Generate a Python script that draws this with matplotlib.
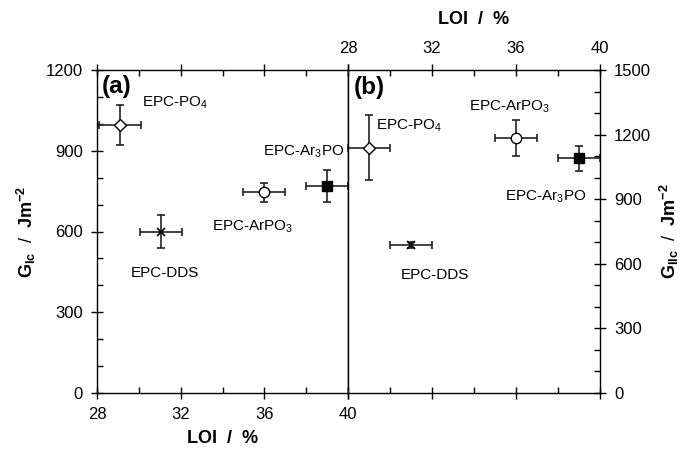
import matplotlib
matplotlib.use('Agg')
import matplotlib.pyplot as plt
from matplotlib.ticker import MultipleLocator

plt.rcParams['font.family'] = ['Liberation Sans', 'DejaVu Sans']
plt.rcParams['mathtext.fontset'] = 'custom'
plt.rcParams['mathtext.rm'] = 'Liberation Sans'
plt.rcParams['mathtext.it'] = 'Liberation Sans'
plt.rcParams['mathtext.bf'] = 'Liberation Sans:bold'

# =========================
# DONNEES
# =========================
names = ['EPC-PO$_4$', 'EPC-DDS', 'EPC-ArPO$_3$', 'EPC-Ar$_3$PO']
markers = ['D', 'x', 'o', 's']
faces = ['white', 'black', 'white', 'black']
msizes = [6.5, 6, 7.5, 7]

# (a) GIc vs LOI
loi_a = [29.1, 31.05, 36.0, 39.0]
loi_a_err = [1.0, 1.0, 1.0, 1.0]
gic = [995, 600, 745, 770]
gic_err = [75, 63, 37, 60]

# (b) GIIc vs LOI
loi_b = [29.0, 31.0, 36.0, 39.0]
loi_b_err = [1.0, 1.0, 1.0, 1.0]
giic = [1140, 687, 1185, 1090]
giic_err = [150, 15, 84, 59]

# position des etiquettes
lab_a = [(30.14, 1078), (29.63, 447), (33.48, 618), (35.92, 896)]
lab_b = [(29.34, 1240), (30.49, 548), (33.78, 1330), (35.46, 912)]

# =========================
# FIGURE
# =========================
fig = plt.figure(figsize=(6.84, 4.51), dpi=100)
W, H = 684, 451
ax1 = fig.add_axes([97 / W, 1 - 393 / H, 251 / W, 323 / H])
ax2 = fig.add_axes([348 / W, 1 - 393 / H, 252 / W, 323 / H])

lc = '#222222'


def draw(ax, x, xe, y, ye, labels):
    for i in range(len(x)):
        ax.errorbar(x[i], y[i], xerr=xe[i], yerr=ye[i], fmt='none',
                    ecolor=lc, elinewidth=1.2, capsize=3, capthick=1.2,
                    zorder=2, clip_on=False)
        if markers[i] == 'x':
            ax.plot(x[i], y[i], 'x', color='black', ms=msizes[i], mew=1.2, zorder=3)
        else:
            ax.plot(x[i], y[i], markers[i], mfc=faces[i], mec='black',
                    ms=msizes[i], mew=1.0, zorder=3)
        ax.text(labels[i][0], labels[i][1], names[i], fontsize=11,
                ha='left', va='center')


draw(ax1, loi_a, loi_a_err, gic, gic_err, lab_a)
draw(ax2, loi_b, loi_b_err, giic, giic_err, lab_b)

for ax in (ax1, ax2):
    ax.set_xlim(28, 40)
    ax.xaxis.set_major_locator(MultipleLocator(4))
    ax.xaxis.set_minor_locator(MultipleLocator(2))
    ax.yaxis.set_major_locator(MultipleLocator(300))
    ax.yaxis.set_minor_locator(MultipleLocator(100))
    for s in ax.spines.values():
        s.set_linewidth(1.0)
    ax.tick_params(which='major', direction='inout', length=8, width=1.0,
                   labelsize=12, top=True, bottom=True, pad=6)
    ax.tick_params(which='minor', direction='in', length=4, width=1.0,
                   top=True, bottom=True)

ax1.set_ylim(0, 1200)
ax1.tick_params(which='both', left=True, right=False, labelleft=True)
ax1.tick_params(axis='x', labeltop=False, labelbottom=True)
ax1.set_xlabel('LOI  /  %', fontsize=13, fontweight='bold', labelpad=6)
ax1.set_ylabel(r'$\mathbf{G_{Ic}}$  /  $\mathbf{Jm^{-2}}$', fontsize=13, labelpad=6)
ax1.text(28.22, 1137, '(a)', fontsize=17.5, fontweight='bold', ha='left', va='center')

ax2.set_ylim(0, 1500)
ax2.tick_params(which='both', left=False, right=True, labelleft=False, labelright=True)
ax2.tick_params(axis='x', labeltop=True, labelbottom=False)
ax2.xaxis.set_label_position('top')
ax2.yaxis.set_label_position('right')
ax2.set_xlabel('LOI  /  %', fontsize=13, fontweight='bold', labelpad=12)
ax2.set_ylabel(r'$\mathbf{G_{IIc}}$  /  $\mathbf{Jm^{-2}}$', fontsize=13, labelpad=5)
ax2.text(28.27, 1421, '(b)', fontsize=17.5, fontweight='bold', ha='left', va='center')

fig.savefig('out.png', dpi=100)
